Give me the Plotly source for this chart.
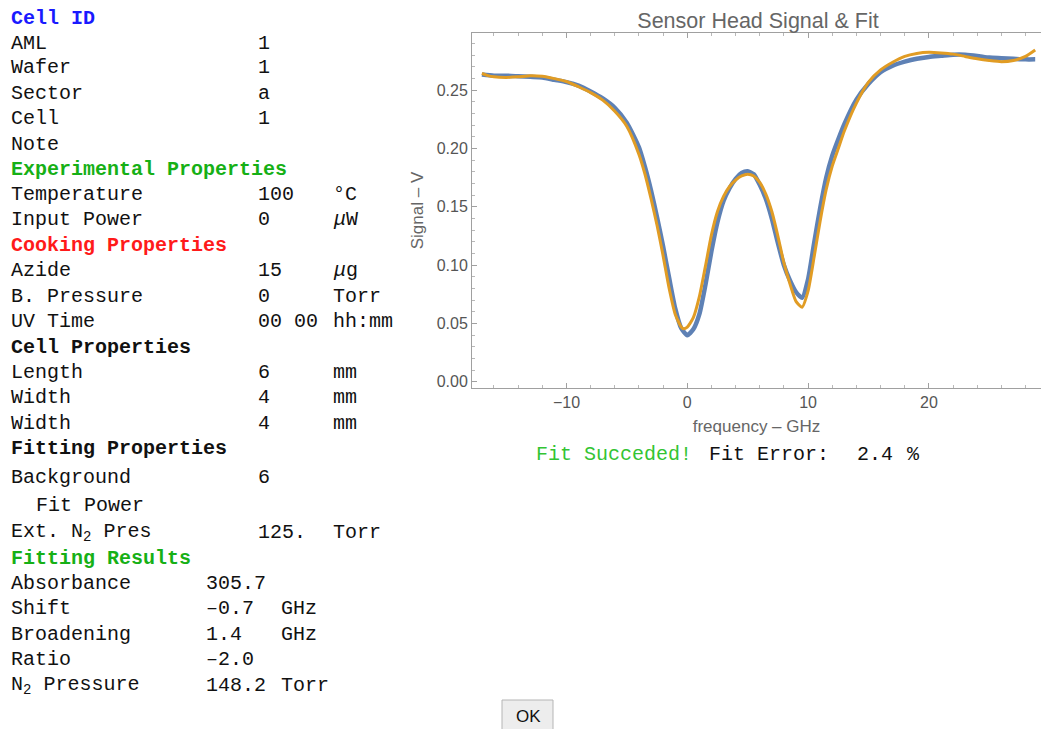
import plotly.graph_objects as go

# ---------------- measured signal and fitted model ----------------
freq_signal = [-17.0, -16, -15, -14, -13, -12, -11, -10, -9, -8, -7, -6, -5, -4, -3.5, -3,
               -2.5, -2, -1.5, -1, -0.5, 0, 0.5, 1, 1.5, 2, 2.5, 3, 3.5, 4, 4.5, 5, 5.5,
               6, 6.5, 7, 7.5, 8, 8.5, 9, 9.5, 10, 10.5, 11, 11.5, 12, 12.5, 13, 14, 15,
               16, 17, 18, 19, 20, 21, 22, 23, 24, 25, 26, 27, 28, 28.8]
signal_v = [0.2635, 0.2625, 0.2625, 0.262, 0.2615, 0.261, 0.259, 0.257, 0.254, 0.249,
            0.243, 0.235, 0.222, 0.201, 0.184, 0.164, 0.141, 0.116, 0.089, 0.063, 0.046,
            0.040, 0.045, 0.058, 0.083, 0.112, 0.137, 0.155, 0.166, 0.174, 0.179, 0.1805,
            0.178, 0.169, 0.157, 0.140, 0.119, 0.100, 0.087, 0.077, 0.072, 0.088, 0.119,
            0.149, 0.175, 0.194, 0.208, 0.221, 0.242, 0.2555, 0.2655, 0.271, 0.2745, 0.277,
            0.2785, 0.2795, 0.2805, 0.2805, 0.2795, 0.278, 0.2775, 0.277, 0.2765, 0.2765]

freq_fit = [-17.0, -16.5, -16, -15, -14, -13, -12, -11, -10, -9, -8, -7, -6, -5, -4, -3.5,
            -3, -2.5, -2, -1.5, -1, -0.5, -0.3, 0, 0.5, 1, 1.5, 2, 2.5, 3, 3.5, 4, 4.5, 5,
            5.5, 6, 6.5, 7, 7.5, 8, 8.5, 9, 9.5, 10, 10.5, 11, 11.5, 12, 12.5, 13, 14, 15,
            16, 17, 18, 19, 20, 21, 22, 23, 24, 25, 26, 27, 28, 28.8]
fit_v = [0.2645, 0.2625, 0.2615, 0.261, 0.2615, 0.2625, 0.262, 0.260, 0.2575, 0.253,
         0.248, 0.2415, 0.232, 0.219, 0.195, 0.178, 0.157, 0.134, 0.108, 0.080, 0.058,
         0.047, 0.0455, 0.047, 0.055, 0.073, 0.099, 0.126, 0.146, 0.159, 0.1675, 0.173,
         0.1765, 0.178, 0.1765, 0.171, 0.161, 0.146, 0.125, 0.102, 0.084, 0.069, 0.064,
         0.078, 0.107, 0.138, 0.165, 0.185, 0.200, 0.215, 0.239, 0.257, 0.2675, 0.274,
         0.279, 0.2815, 0.2825, 0.282, 0.281, 0.279, 0.277, 0.2755, 0.2745, 0.2755, 0.279,
         0.2845]

x_ticks = [-10, 0, 10, 20]
y_ticks = [0.00, 0.05, 0.10, 0.15, 0.20, 0.25]

# ---------------- parameter panel contents ----------------
panel_labels = ["AML", "Wafer", "Sector", "Cell", "Note",
                "Temperature", "Input Power",
                "Azide", "B. Pressure", "UV Time",
                "Length", "Width", "Width",
                "Background", "Fit Power", "Ext. N<sub>2</sub> Pres",
                "Absorbance", "Shift", "Broadening", "Ratio", "N<sub>2</sub> Pressure"]
panel_values = ["1", "1", "a", "1", "",
                "100", "0",
                "15", "0", "00 00",
                "6", "4", "4",
                "6", "", "125.",
                "305.7", "–0.7", "1.4", "–2.0", "148.2"]
panel_units = ["", "", "", "", "",
               "°C", "<i>μ</i>W",
               "<i>μ</i>g", "Torr", "hh:mm",
               "mm", "mm", "mm",
               "", "", "Torr",
               "", "GHz", "GHz", "", "Torr"]
section_titles = ["Cell ID", "Experimental Properties", "Cooking Properties",
                  "Cell Properties", "Fitting Properties", "Fitting Results"]

fit_status = "Fit Succeded!"
fit_error_label = "Fit Error:"
fit_error_value = "2.4"

# ---------------- layout helpers (pixel -> paper) ----------------
W, H = 1041, 729


def px(x):
    return x / W


def py(y):
    return 1 - y / H


MONO = "Liberation Mono, Courier New, monospace"
SANS = "Liberation Sans, Arial, sans-serif"
AXIS_GREY = "#555555"

fig = go.Figure()
fig.add_trace(go.Scatter(
    x=freq_signal, y=signal_v, mode="lines", name="signal",
    line=dict(color="#5E81B5", width=4.5, shape="spline", smoothing=0.6),
    hoverinfo="skip"))
fig.add_trace(go.Scatter(
    x=freq_fit, y=fit_v, mode="lines", name="fit",
    line=dict(color="#E19C24", width=3, shape="spline", smoothing=0.6),
    hoverinfo="skip"))

x0_px, x1_px, y0_px, y1_px = 472, 1041, 33, 388

fig.update_layout(
    width=W, height=H,
    margin=dict(l=0, r=0, t=0, b=0),
    paper_bgcolor="white", plot_bgcolor="white",
    showlegend=False,
    title=dict(text="Sensor Head Signal & Fit", x=px(758), y=py(20),
               xanchor="center", yanchor="middle", xref="paper", yref="paper",
               font=dict(family=SANS, size=21.5, color="#666666")),
    xaxis=dict(
        domain=[px(x0_px), px(x1_px)], range=[-17.82, 29.28], automargin=False,
        showline=True, linecolor="#a0a0a0", linewidth=1, mirror="allticks",
        showgrid=False, zeroline=False,
        ticks="inside", ticklen=5, tickcolor="#a0a0a0", tickvals=x_ticks,
        tickfont=dict(family=SANS, size=16, color=AXIS_GREY),
        minor=dict(dtick=2, ticks="inside", ticklen=3, tickcolor="#b8b8b8", showgrid=False),
        title=dict(text="frequency – GHz", standoff=9,
                   font=dict(family=SANS, size=17, color="#666666")),
    ),
    yaxis=dict(
        domain=[py(y1_px), py(y0_px)], range=[-0.0053, 0.2991], automargin=False,
        showline=True, linecolor="#a0a0a0", linewidth=1, mirror=False,
        showgrid=False, zeroline=False,
        ticks="inside", ticklen=5, tickcolor="#a0a0a0", tickvals=y_ticks,
        tickformat=".2f",
        tickfont=dict(family=SANS, size=16, color=AXIS_GREY),
        minor=dict(dtick=0.01, ticks="inside", ticklen=3, tickcolor="#b8b8b8", showgrid=False),
        title=dict(text="Signal – V", standoff=8,
                   font=dict(family=SANS, size=17, color="#666666")),
    ),
)

annotations = []


def text_at(x, y, s, color="#111111", size=20, family=MONO):
    # annotations carry a small inner padding; offset so glyphs start at x
    annotations.append(dict(
        x=px(x - 2), y=py(y + 1), xref="paper", yref="paper", text=s, showarrow=False,
        xanchor="left", yanchor="middle", font=dict(family=family, size=size, color=color)))


# section headers
section_y = [17, 168, 244, 346, 447, 557]
section_colors = ["#1a1aff", "#16b016", "#ff1a1a", "#111111", "#111111", "#16b016"]
for title_text, yy, col in zip(section_titles, section_y, section_colors):
    text_at(11, yy, "<b>" + title_text + "</b>", color=col)

# parameter rows
row_y = [42, 67, 93, 118, 143,
         193, 218,
         269, 295, 320,
         371, 396, 422,
         476, 504, 531,
         582, 607, 633, 658, 684]
label_x = [11] * 14 + [36] + [11] * 6
value_x = [258] * 16 + [206] * 5
unit_x = [333] * 16 + [281] * 5
for i, yy in enumerate(row_y):
    text_at(label_x[i], yy, panel_labels[i])
    if panel_values[i]:
        text_at(value_x[i], yy, panel_values[i])
    if panel_units[i]:
        text_at(unit_x[i], yy, panel_units[i])

# fit status line under the chart
text_at(536, 453, fit_status, color="#33c433")
text_at(709, 453, fit_error_label)
text_at(857, 453, fit_error_value)
text_at(907, 453, "%")

# OK button
annotations.append(dict(
    x=px(528), y=py(716), xref="paper", yref="paper", text="OK", showarrow=False,
    xanchor="center", yanchor="middle", font=dict(family=SANS, size=17, color="#111111")))

fig.update_layout(annotations=annotations)
fig.add_shape(type="rect", xref="paper", yref="paper",
              x0=px(502), x1=px(553), y0=py(731), y1=py(700),
              line=dict(color="#b5b5b5", width=1), fillcolor="#ededed", layer="below")

fig.write_html("out.html")
